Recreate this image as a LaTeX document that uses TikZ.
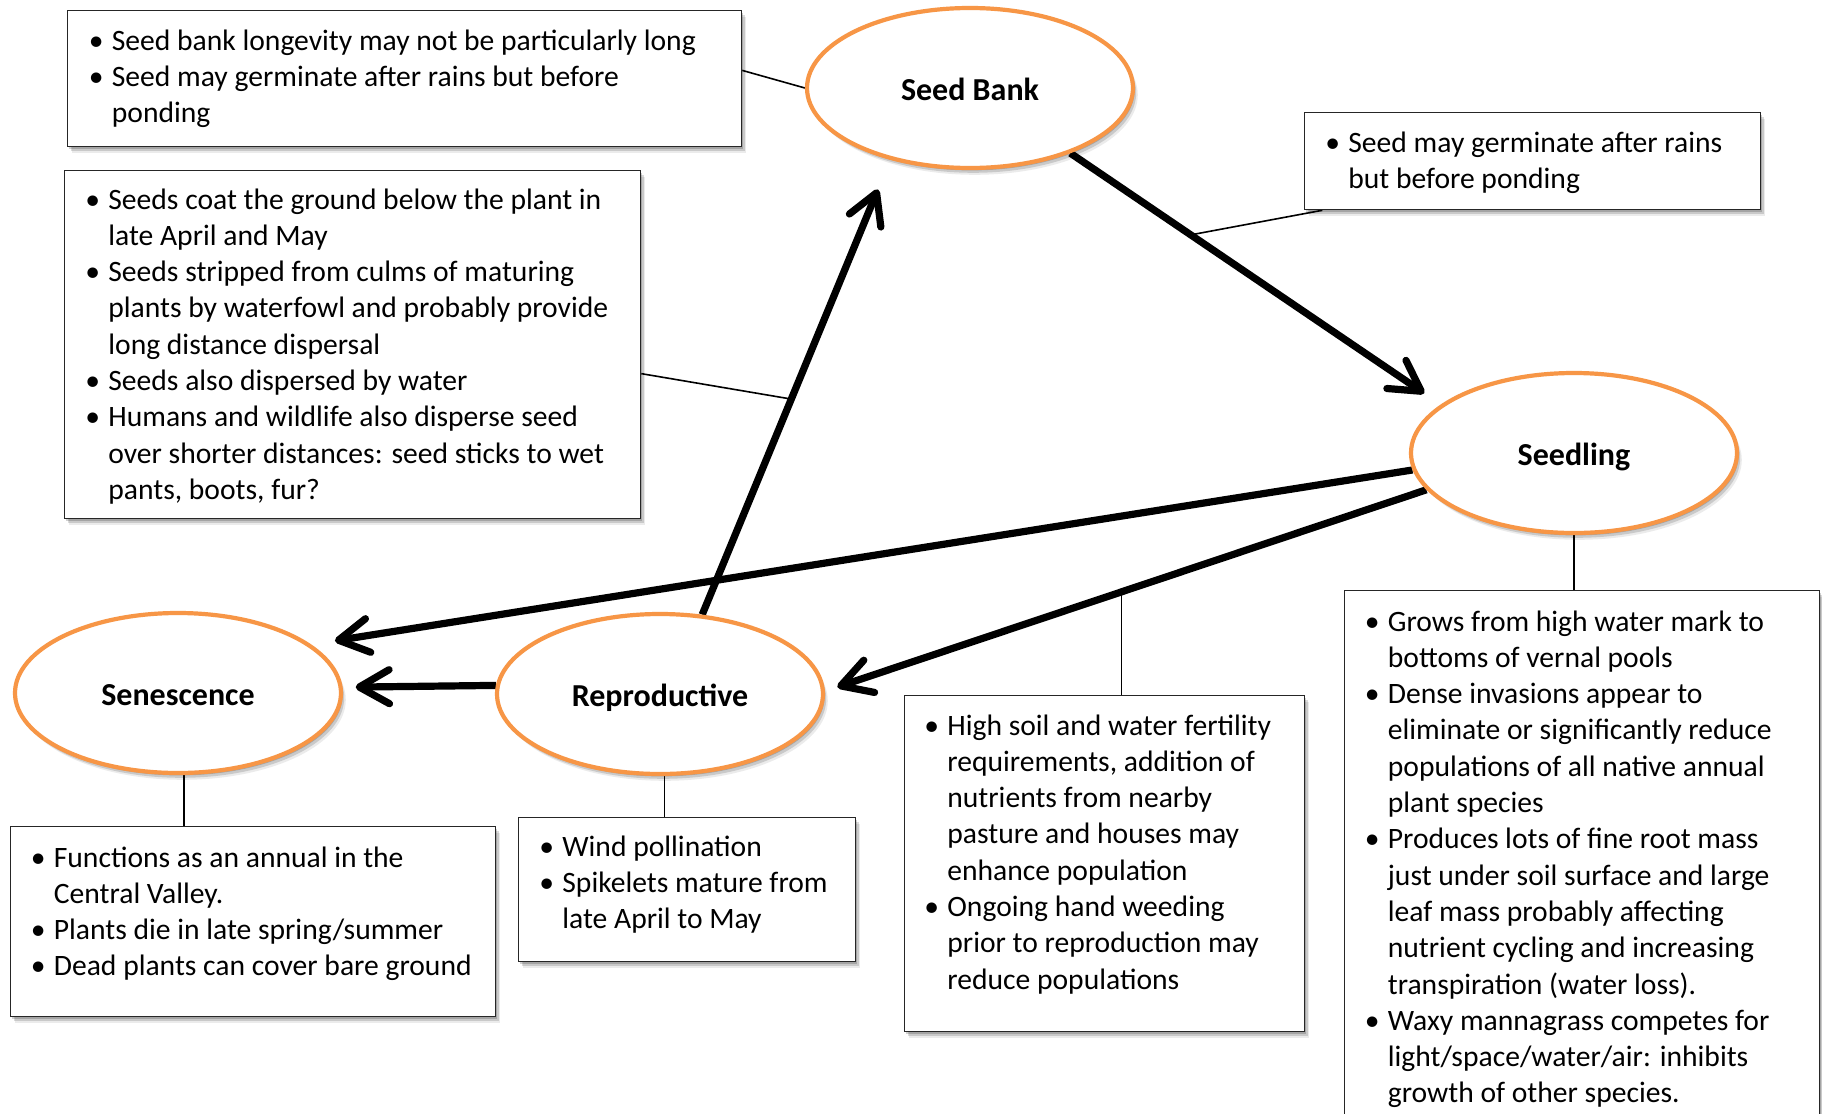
\documentclass[tikz,border=0pt]{standalone}
\usepackage{fontspec}
\setmainfont{Carlito}
\usetikzlibrary{shapes.geometric,arrows.meta,calc,shadows}
\definecolor{stageorange}{HTML}{F79646}
\definecolor{boxline}{HTML}{262626}
\newcommand\bul{\leavevmode\llap{\makebox[11.5pt][l]{\textbullet}}}
\pgfdeclarelayer{bg}
\pgfsetlayers{bg,main}
\tikzset{
  softshadow/.style={
    drop shadow={shadow xshift=0.8pt, shadow yshift=-1.2pt, opacity=0.18, fill=black},
    drop shadow={shadow xshift=1.6pt, shadow yshift=-2.4pt, opacity=0.14, fill=black},
    drop shadow={shadow xshift=2.4pt, shadow yshift=-3.4pt, opacity=0.08, fill=black}},
  stage/.style={ellipse, draw=stageorange, line width=2.1pt, fill=white, minimum width=163pt, minimum height=80pt, inner sep=0pt, text height=12.7pt, text depth=0pt, font=\fontsize{16}{19}\selectfont\bfseries, softshadow},
  infobox/.style={rectangle, draw=boxline, line width=0.65pt, fill=white, inner sep=0pt, anchor=north west, softshadow},
  info/.style={anchor=base west, inner sep=0pt, font=\fontsize{14.8}{18.15}\selectfont},
  flow/.style={line width=3.6pt, -{Straight Barb[length=15pt,width=17pt,round]}},
  link/.style={line width=0.8pt},
}
\begin{document}
\begin{tikzpicture}[x=0.5pt,y=-0.5pt]
\useasboundingbox (0,0) rectangle (1822,1114);
\begin{pgfonlayer}{bg}
\fill[white] (0,0) rectangle (1822,1114);
\end{pgfonlayer}

% boxes
\node[infobox, minimum width=337pt, minimum height=68pt] (b1) at (67,10) {};
\node[infobox, minimum width=288pt, minimum height=174pt] (b2) at (64,170) {};
\node[infobox, minimum width=228pt, minimum height=48.5pt] (b3) at (1304,112) {};
\node[infobox, minimum width=242.5pt, minimum height=95pt] (b4) at (10,826) {};
\node[infobox, minimum width=168.5pt, minimum height=72pt] (b5) at (518,817) {};
\node[infobox, minimum width=200pt, minimum height=168pt] (b6) at (904,695) {};
\node[infobox, minimum width=237.5pt, minimum height=285pt] (b7) at (1344,590) {};

% texts
\node[info] (t1) at (111.5,50) {\parbox[t]{330pt}{%
\bul Seed bank longevity may not be particularly long\\
\bul Seed may germinate after rains but before\\
ponding}};
\node[info] (t2) at (108,209) {\parbox[t]{280pt}{%
\bul Seeds coat the ground below the plant in\\
late April and May\\
\bul Seeds stripped from culms of maturing\\
plants by waterfowl and probably provide\\
long distance dispersal\\
\bul Seeds also dispersed by water\\
\bul Humans and wildlife also disperse seed\\
over shorter distances: seed sticks to wet\\
pants, boots, fur?}};
\node[info] (t3) at (1348,152) {\parbox[t]{220pt}{%
\bul Seed may germinate after rains\\
but before ponding}};
\node[info] (t4) at (53.5,867) {\parbox[t]{230pt}{%
\bul Functions as an annual in the\\
Central Valley.\\
\bul Plants die in late spring/summer\\
\bul Dead plants can cover bare ground}};
\node[info] (t5) at (562,856) {\parbox[t]{150pt}{%
\bul Wind pollination\\
\bul Spikelets mature from\\
late April to May}};
\node[info] (t6) at (947,735) {\parbox[t]{180pt}{%
\bul High soil and water fertility\\
requirements, addition of\\
nutrients from nearby\\
pasture and houses may\\
enhance population\\
\bul Ongoing hand weeding\\
prior to reproduction may\\
reduce populations}};
\node[info] (t7) at (1387.5,631) {\parbox[t]{215pt}{%
\bul Grows from high water mark to\\
bottoms of vernal pools\\
\bul Dense invasions appear to\\
eliminate or significantly reduce\\
populations of all native annual\\
plant species\\
\bul Produces lots of fine root mass\\
just under soil surface and large\\
leaf mass probably affecting\\
nutrient cycling and increasing\\
transpiration (water loss).\\
\bul Waxy mannagrass competes for\\
light/space/water/air: inhibits\\
growth of other species.}};

% stages
\node[stage] (sb) at (970,88) {Seed Bank};
\node[stage] (sl) at (1574,453) {Seedling};
\node[stage] (se) at (178,693) {Senescence};
\node[stage] (rp) at (660,694) {Reproductive};

% connectors
\begin{pgfonlayer}{bg}
\draw[link] ($(b1.north east)!0.44!(b1.south east)$) -- (sb.west);
\draw[flow, shorten >=10pt] (sb.-33) -- (sl.160);
\coordinate (m3) at ($(sb.-33)!0.325!(sl.160)$);
\draw[link] (m3) -- ($(b3.south west)!0.04!(b3.south east)$);
\draw[flow, shorten >=16pt] (rp.62) -- (sb.222);
\coordinate (m2) at ($(rp.62)!0.474!(sb.222)$);
\draw[link] ($(b2.north east)!0.583!(b2.south east)$) -- (m2);
\draw[flow, shorten >=12pt] (sl.186) -- (se.20);
\draw[flow, shorten >=6.5pt] (sl.194) -- (rp.1);
\coordinate (m6) at ($(sl.194)!0.507!(rp.1)$);
\draw[link] (m6) -- (m6 |- b6.north);
\draw[flow, shorten >=6.5pt] (rp.177.5) -- (se.2.5);
\draw[link] (se.-86) -- (se.-86 |- b4.north);
\draw[link] (rp.-87) -- (rp.-87 |- b5.north);
\draw[link] (sl.south) -- (sl.south |- b7.north);
\end{pgfonlayer}
\end{tikzpicture}
\end{document}
